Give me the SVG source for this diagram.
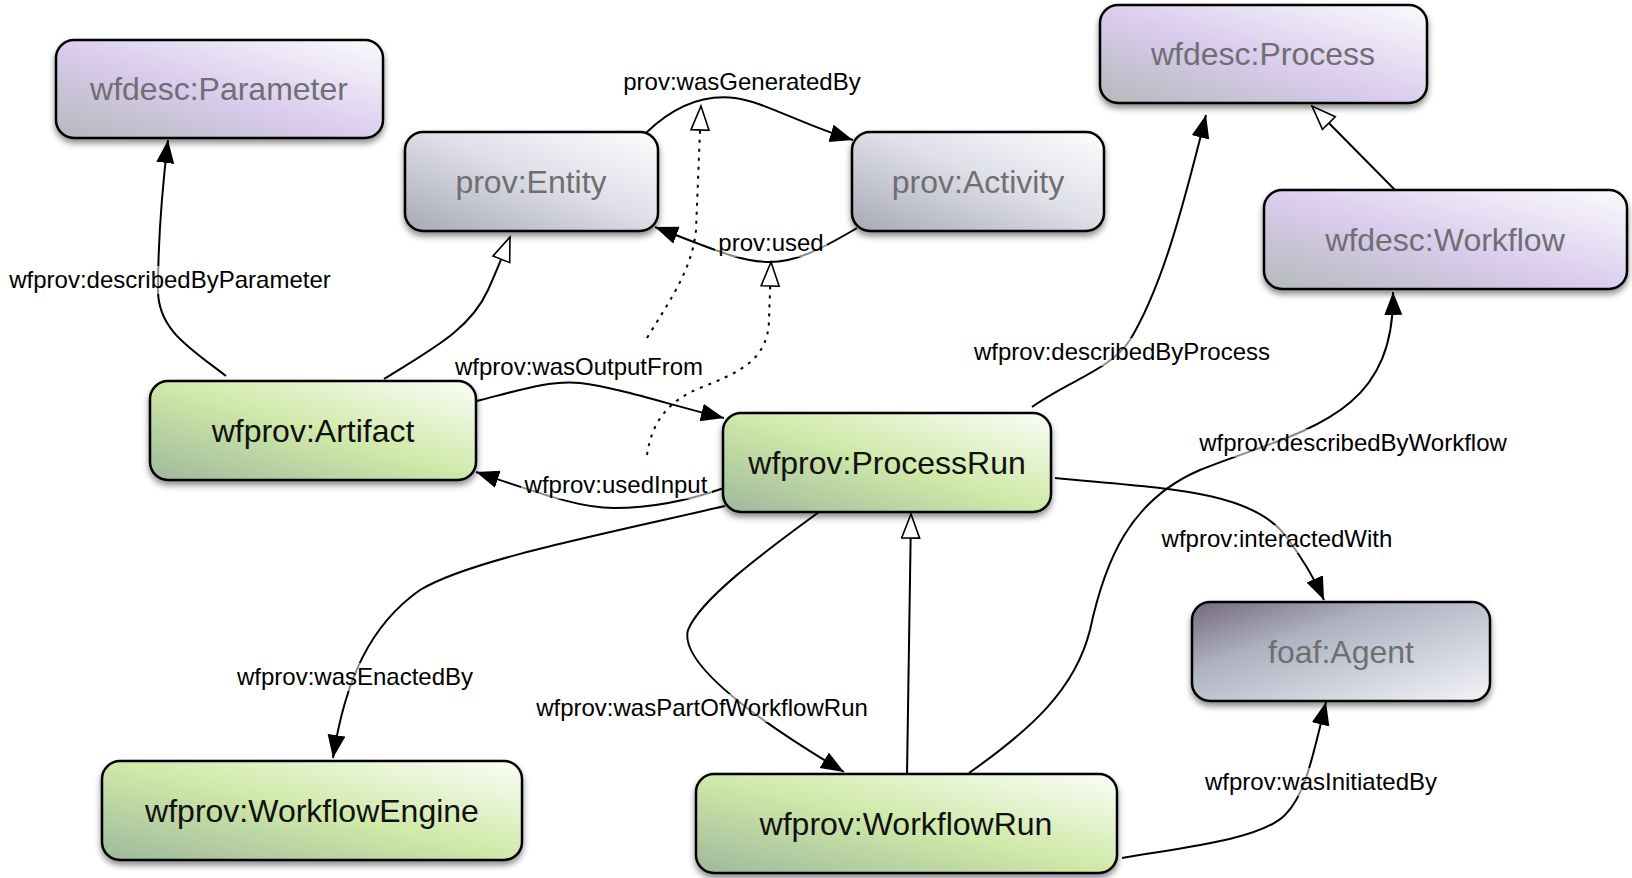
<svg xmlns="http://www.w3.org/2000/svg" width="1632" height="878" viewBox="0 0 1632 878">
<defs>
  <linearGradient id="gGreen" x1="0" y1="1" x2="1" y2="0">
    <stop offset="0" stop-color="#9fb89d"/>
    <stop offset="0.5" stop-color="#cfe9a8"/>
    <stop offset="1" stop-color="#fbfdf8"/>
  </linearGradient>
  <linearGradient id="gPurple" x1="0" y1="1" x2="1" y2="0">
    <stop offset="0" stop-color="#b4b9ba"/>
    <stop offset="0.45" stop-color="#d8cbec"/>
    <stop offset="1" stop-color="#fbfafd"/>
  </linearGradient>
  <linearGradient id="gProv" x1="0" y1="1" x2="1" y2="0">
    <stop offset="0" stop-color="#a7a9b6"/>
    <stop offset="0.55" stop-color="#dfe0e8"/>
    <stop offset="1" stop-color="#fdfdfe"/>
  </linearGradient>
  <linearGradient id="gAgent" x1="0" y1="0" x2="1" y2="1">
    <stop offset="0" stop-color="#76687e"/>
    <stop offset="0.35" stop-color="#aeb3c2"/>
    <stop offset="1" stop-color="#f3f4f7"/>
  </linearGradient>
  <filter id="shadow" x="-10%" y="-10%" width="120%" height="130%">
    <feDropShadow dx="0" dy="4" stdDeviation="3" flood-color="#000" flood-opacity="0.45"/>
  </filter>
  <marker id="arrow" markerUnits="userSpaceOnUse" markerWidth="26" markerHeight="20" refX="23" refY="9" orient="auto">
    <path d="M0,0 L23,9 L0,18 z" fill="#000"/>
  </marker>
  <marker id="hollow" markerUnits="userSpaceOnUse" markerWidth="28" markerHeight="22" refX="25" refY="10" orient="auto">
    <path d="M1,1 L25,10 L1,19 z" fill="#fff" stroke="#000" stroke-width="1.6"/>
  </marker>
</defs>
<style>
  .node rect { stroke: #000; stroke-width: 2.5; filter: url(#shadow); }
  .node text { font-family: "Liberation Sans", Arial, sans-serif; font-size: 32px; text-anchor: middle; }
  .dark { fill: #111; }
  .light { fill: #6f6f73; }
  .edge { fill: none; stroke: #000; stroke-width: 2; }
  .sub { marker-end: url(#hollow); }
  .rel { marker-end: url(#arrow); }
  .dot { stroke-dasharray: 3 6; }
  .lbl rect { fill: #fff; fill-opacity: 0.55; }
  .lbl text { font-family: "Liberation Sans", Arial, sans-serif; font-size: 24px; text-anchor: middle; fill: #000; }
</style>
<rect width="1632" height="878" fill="#fff"/>

<g id="connectors">
  <path class="edge rel" d="M226,376 C190,348 158,330 158,290 C158,240 162,190 168,140"/>
  <path class="edge sub" d="M384,379 C430,350 470,330 488,290 C497,270 503,255 510,237"/>
  <path class="edge rel" d="M646,133 C680,100 710,95 735,98 C765,102 800,124 853,140"/>
  <path class="edge rel" d="M857,228 C820,250 795,262 770,262 C740,262 710,248 655,227"/>
  <path class="edge sub dot" d="M647,338 C670,300 692,270 696,230 L701,106"/>
  <path class="edge sub dot" d="M647,455 C652,420 670,400 700,388 C740,372 768,360 769,320 L771,262"/>
  <path class="edge rel" d="M477,401 C520,390 550,380 580,383 C620,388 670,405 724,418"/>
  <path class="edge rel" d="M724,488 C690,500 650,508 614,508 C580,508 545,495 476,472"/>
  <path class="edge rel" d="M725,506 C600,535 470,560 420,590 C370,625 345,680 333,758"/>
  <path class="edge rel" d="M819,512 C760,555 700,600 688,630 C680,660 740,710 844,772"/>
  <path class="edge sub" d="M907,775 L911,514"/>
  <path class="edge rel" d="M1032,407 C1070,380 1110,370 1130,340 C1160,290 1180,220 1206,115"/>
  <path class="edge sub" d="M1395,190 L1312,106"/>
  <path class="edge rel" d="M969,773 C1030,730 1075,690 1090,630 C1105,560 1130,500 1200,470 C1300,430 1395,420 1393,292"/>
  <path class="edge rel" d="M1055,478 C1160,488 1250,490 1285,535 C1300,555 1313,575 1324,600"/>
  <path class="edge rel" d="M1122,858 C1180,848 1260,840 1285,815 C1305,795 1312,760 1326,702"/>
</g>

<g id="edge-labels" class="lbl">
  <rect x="6" y="266" width="329" height="28"/><text x="170" y="288">wfprov:describedByParameter</text>
  <rect x="619" y="68" width="246" height="28"/><text x="742" y="90">prov:wasGeneratedBy</text>
  <rect x="715" y="229" width="112" height="28"/><text x="771" y="251">prov:used</text>
  <rect x="451" y="353" width="256" height="28"/><text x="579" y="375">wfprov:wasOutputFrom</text>
  <rect x="521" y="471" width="191" height="28"/><text x="616" y="493">wfprov:usedInput</text>
  <rect x="970" y="338" width="304" height="28"/><text x="1122" y="360">wfprov:describedByProcess</text>
  <rect x="1196" y="429" width="315" height="28"/><text x="1353" y="451">wfprov:describedByWorkflow</text>
  <rect x="1158" y="525" width="238" height="28"/><text x="1277" y="547">wfprov:interactedWith</text>
  <rect x="233" y="663" width="244" height="28"/><text x="355" y="685">wfprov:wasEnactedBy</text>
  <rect x="533" y="694" width="339" height="28"/><text x="702" y="716">wfprov:wasPartOfWorkflowRun</text>
  <rect x="1201" y="768" width="240" height="28"/><text x="1321" y="790">wfprov:wasInitiatedBy</text>
</g>

<g id="node-parameter" class="node"><rect x="56" y="40" width="327" height="98" rx="18" fill="url(#gPurple)"/><text class="light" x="219" y="100">wfdesc:Parameter</text></g>
<g id="node-entity" class="node"><rect x="405" y="132" width="253" height="99" rx="18" fill="url(#gProv)"/><text class="light" x="531" y="193">prov:Entity</text></g>
<g id="node-activity" class="node"><rect x="852" y="132" width="252" height="99" rx="18" fill="url(#gProv)"/><text class="light" x="978" y="193">prov:Activity</text></g>
<g id="node-process" class="node"><rect x="1100" y="5" width="327" height="98" rx="18" fill="url(#gPurple)"/><text class="light" x="1263" y="65">wfdesc:Process</text></g>
<g id="node-workflow" class="node"><rect x="1264" y="190" width="363" height="99" rx="18" fill="url(#gPurple)"/><text class="light" x="1445" y="251">wfdesc:Workflow</text></g>
<g id="node-artifact" class="node"><rect x="150" y="381" width="326" height="99" rx="18" fill="url(#gGreen)"/><text class="dark" x="313" y="442">wfprov:Artifact</text></g>
<g id="node-processrun" class="node"><rect x="723" y="413" width="328" height="99" rx="18" fill="url(#gGreen)"/><text class="dark" x="887" y="474">wfprov:ProcessRun</text></g>
<g id="node-agent" class="node"><rect x="1192" y="602" width="298" height="99" rx="18" fill="url(#gAgent)"/><text class="light" x="1341" y="663">foaf:Agent</text></g>
<g id="node-engine" class="node"><rect x="102" y="761" width="420" height="99" rx="18" fill="url(#gGreen)"/><text class="dark" x="312" y="822">wfprov:WorkflowEngine</text></g>
<g id="node-workflowrun" class="node"><rect x="696" y="774" width="421" height="99" rx="18" fill="url(#gGreen)"/><text class="dark" x="906" y="835">wfprov:WorkflowRun</text></g>
</svg>
